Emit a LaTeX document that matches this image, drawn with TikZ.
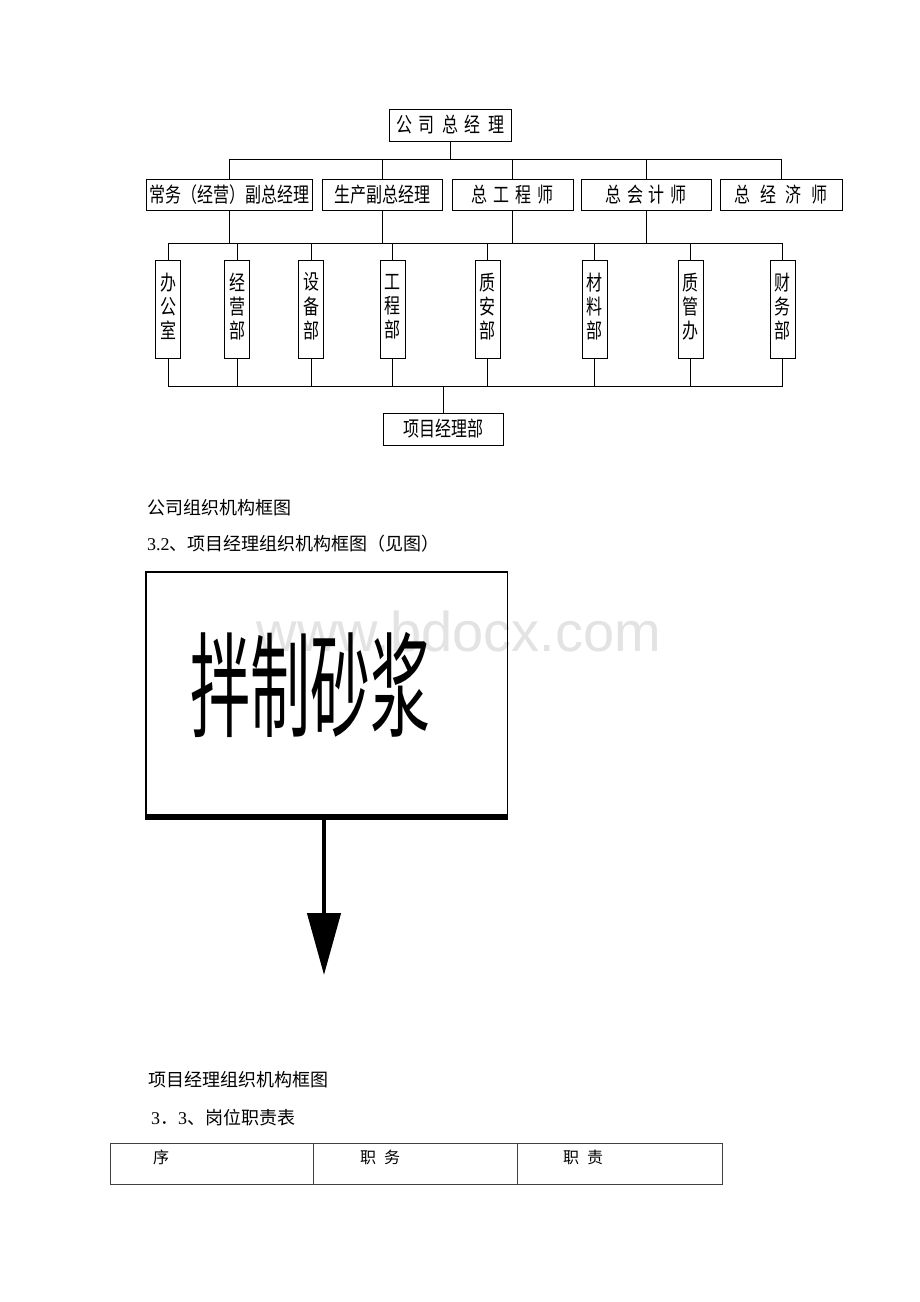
\documentclass[tikz,border=0pt]{standalone}
\usepackage{fontspec}
\setmainfont{Liberation Serif}
\newfontfamily\cjk{Noto Sans CJK SC}
\newfontfamily\wmfont{Liberation Sans}
\usetikzlibrary{arrows.meta}
\newcommand{\cgap}[1]{\hspace{#1pt}}
\newcommand{\tall}[1]{\scalebox{1}[1.3]{#1}}
\newcommand{\stack}[3]{\tall{\begin{tabular}{@{}c@{}}#1\\#2\\#3\end{tabular}}}

\begin{document}
\begin{tikzpicture}[x=1pt,y=-1pt,
  orgbox/.style={draw,line width=1pt,inner sep=0pt,minimum height=31pt,font=\cjk\fontsize{16}{20}\selectfont},
  deptbox/.style={orgbox,minimum width=25pt,minimum height=98pt,font=\cjk\fontsize{16}{17.3}\selectfont},
  link/.style={line width=0.8pt},
  caption/.style={anchor=west,inner sep=0pt,font=\cjk\fontsize{18}{20}\selectfont}]
\useasboundingbox[fill=white] (0,0) rectangle (920,1302);

% company chart
\node[orgbox,minimum width=122pt,minimum height=32pt] (gm) at (450,125) {\tall{公\cgap{7}司\cgap{7}总\cgap{7}经\cgap{7}理}};
\node[orgbox,minimum width=166pt] (vpa) at (229,194.5) {\tall{常务（经营）副总经理}};
\node[orgbox,minimum width=120pt] (vpb) at (382,194.5) {\tall{生产副总经理}};
\node[orgbox,minimum width=121pt] (ce) at (512.5,194.5) {\tall{总\cgap{6.3}工\cgap{6.3}程\cgap{6.3}师}};
\node[orgbox,minimum width=130pt] (ca) at (646,194.5) {\tall{总\cgap{5.7}会\cgap{5.7}计\cgap{5.7}师}};
\node[orgbox,minimum width=122pt] (ec) at (781,194.5) {\tall{总\cgap{9.7}经\cgap{9.7}济\cgap{9.7}师}};

\node[deptbox] (off) at (168,309) {\stack{办}{公}{室}};
\node[deptbox] (biz) at (237,309) {\stack{经}{营}{部}};
\node[deptbox] (equ) at (311,309) {\stack{设}{备}{部}};
\node[deptbox] (eng) at (392.5,309) {\stack{工}{程}{部}};
\node[deptbox] (qs) at (487.5,309) {\stack{质}{安}{部}};
\node[deptbox] (mat) at (594.5,309) {\stack{材}{料}{部}};
\node[deptbox] (qc) at (690.5,309) {\stack{质}{管}{办}};
\node[deptbox] (fin) at (782.5,309) {\stack{财}{务}{部}};

\node[orgbox,minimum width=120pt,minimum height=32pt] (pm) at (443,429) {\tall{项目经理部}};

\coordinate (busa) at (0,159);
\coordinate (busb) at (0,243);
\coordinate (busc) at (0,386);

\draw[link] (gm.south) -- (gm.south |- busa);
\draw[link] (vpa.north |- busa) -- (ec.north |- busa);
\foreach \n in {vpa,vpb,ce,ca,ec}
  \draw[link] (\n.north) -- (\n.north |- busa);
\foreach \n in {vpa,vpb,ce,ca}
  \draw[link] (\n.south) -- (\n.south |- busb);
\draw[link] (off.north |- busb) -- (fin.north |- busb);
\foreach \n in {off,biz,equ,eng,qs,mat,qc,fin}{
  \draw[link] (\n.north) -- (\n.north |- busb);
  \draw[link] (\n.south) -- (\n.south |- busc);
}
\draw[link] (off.south |- busc) -- (fin.south |- busc);
\draw[link] (pm.north) -- (pm.north |- busc);

% captions
\node[caption] (capa) at (147,508) {公司组织机构框图};
\node[caption] (capb) at (147,544) {{\rmfamily 3.2}、项目经理组织机构框图（见图）};

% project flow box
\node[inner sep=0pt,text=black!11,font=\wmfont\fontsize{56}{56}\selectfont,anchor=base] (wm) at (459,651) {www.bdocx.com};
\node[draw,line width=1.5pt,inner sep=0pt,minimum width=361.5pt,minimum height=244pt] (mix) at (326.75,694) {};
\node[inner sep=0pt,font=\cjk\fontsize{60}{60}\selectfont] (mixlabel) at (310,685) {\scalebox{1}[1.9]{拌制砂浆}};
\draw[line width=6pt] (mix.south west) -- (mix.south east);
\coordinate (mixtip) at (324,975);
\draw[line width=4.5pt,-{Triangle[length=62pt,width=33pt]}] (mixtip |- mix.south) -- (mixtip);

\node[caption] (capc) at (148,1080) {项目经理组织机构框图};
\node[caption] (capd) at (151,1118) {{\rmfamily 3}．{\rmfamily 3}、岗位职责表};

% duty table
\draw[line width=0.9pt,black!75] (110,1143) rectangle (722,1184);
\draw[line width=0.9pt,black!75] (313.5,1143) -- (313.5,1184);
\draw[line width=0.9pt,black!75] (517,1143) -- (517,1184);
\node[inner sep=0pt,font=\cjk\fontsize{16}{20}\selectfont] (cola) at (161,1157) {序};
\node[inner sep=0pt,font=\cjk\fontsize{16}{20}\selectfont] (colb) at (380,1157) {职\cgap{8}务};
\node[inner sep=0pt,font=\cjk\fontsize{16}{20}\selectfont] (colc) at (583,1157) {职\cgap{8}责};
\end{tikzpicture}
\end{document}
